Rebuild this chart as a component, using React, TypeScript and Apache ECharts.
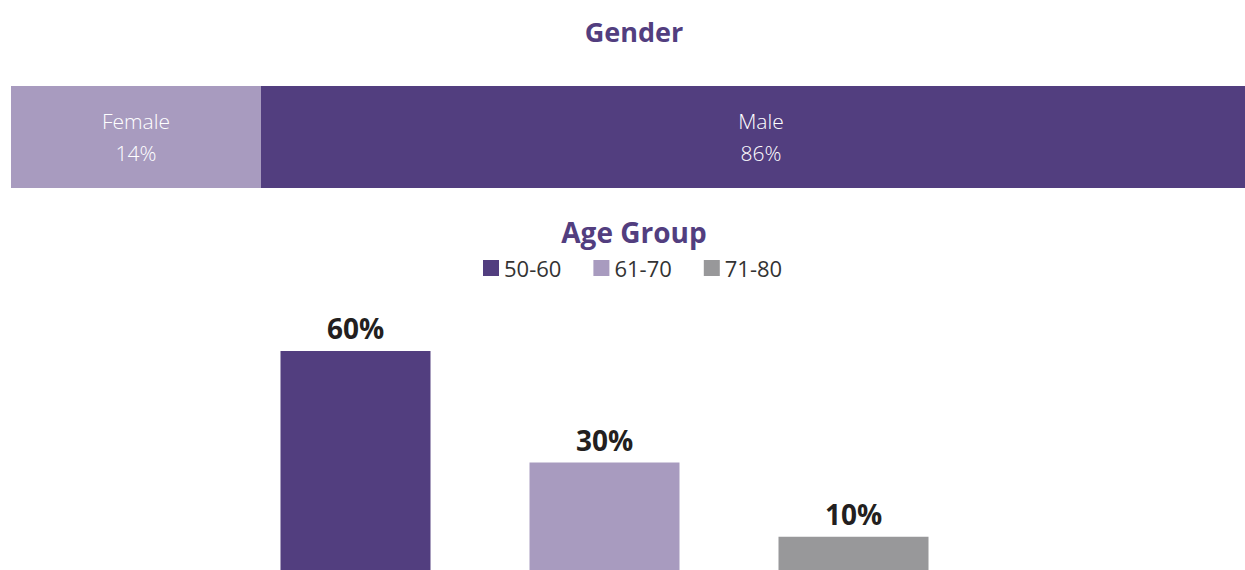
import React, { useEffect, useRef } from "react";
import * as echarts from "echarts";

// Gender
const genderCategories = ["Female", "Male"];
const genderPercent = [14, 86]; // label values
const genderSegmentWidth = [20, 80]; // displayed segment widths
const genderColors = ["#a89bbf", "#523e7f"];

// Age group
const ageGroups = ["50-60", "61-70", "71-80"];
const agePercent = [60, 30, 10];
const ageColors = ["#523e7f", "#a89bbf", "#98989a"];

const FONT = "'Open Sans', 'Noto Sans', sans-serif";

export default function App() {
  const ref = useRef<HTMLDivElement>(null);
  useEffect(() => {
    if (!ref.current) return;
    const chart = echarts.init(ref.current, null, { renderer: "svg" });
    const genderSeries = genderCategories.map((name, i) => ({
      name,
      type: "bar",
      stack: "gender",
      xAxisIndex: 0,
      yAxisIndex: 0,
      barWidth: "100%",
      data: [genderSegmentWidth[i]],
      itemStyle: { color: genderColors[i] },
      label: {
        show: true,
        position: "inside",
        formatter: () => `${name}\n${genderPercent[i]}%`,
        color: "#ffffff",
        fontFamily: FONT,
        fontWeight: 300,
        fontSize: 21,
        lineHeight: 32,
      },
      emphasis: { disabled: true },
    }));
    const ageSeries = ageGroups.map((name, i) => ({
      name,
      type: "bar",
      xAxisIndex: 1,
      yAxisIndex: 1,
      barWidth: 150,
      barGap: "66%",
      data: [agePercent[i]],
      itemStyle: { color: ageColors[i] },
      label: {
        show: true,
        position: "top",
        distance: 9,
        formatter: "{c}%",
        color: "#231f20",
        fontFamily: FONT,
        fontWeight: "bold",
        fontSize: 28,
      },
      emphasis: { disabled: true },
    }));
    chart.setOption({
      animation: false,
      textStyle: { fontFamily: FONT },
      title: [
        {
          text: "Gender",
          left: 634,
          top: 16,
          padding: 0,
          textAlign: "center",
          textStyle: { color: "#523e7f", fontSize: 27, fontWeight: "bold", fontFamily: FONT, lineHeight: 30 },
        },
        {
          text: "Age Group",
          left: 634,
          top: 217,
          padding: 0,
          textAlign: "center",
          textStyle: { color: "#523e7f", fontSize: 28, fontWeight: "bold", fontFamily: FONT, lineHeight: 30 },
        },
      ],
      legend: {
        data: ageGroups,
        left: 483,
        top: 257,
        padding: 0,
        icon: "rect",
        itemWidth: 16,
        itemHeight: 16,
        itemGap: 32,
        textStyle: { color: "#333333", fontSize: 22, fontFamily: FONT },
        selectedMode: false,
      },
      grid: [
        { left: 11, right: 4, top: 86, height: 102 },
        { left: 11, right: 67, top: 351, bottom: 6 },
      ],
      xAxis: [
        { type: "value", gridIndex: 0, min: 0, max: 100, show: false },
        { type: "category", gridIndex: 1, data: ["Age Group"], show: false },
      ],
      yAxis: [
        { type: "category", gridIndex: 0, data: ["Gender"], show: false },
        { type: "value", gridIndex: 1, min: 0, max: 60, show: false },
      ],
      series: [...genderSeries, ...ageSeries],
    });
    return () => chart.dispose();
  }, []);
  return (
    <div
      ref={ref}
      style={{ position: "fixed", left: 0, top: 0, width: 1265, height: 580, background: "#ffffff" }}
    />
  );
}
